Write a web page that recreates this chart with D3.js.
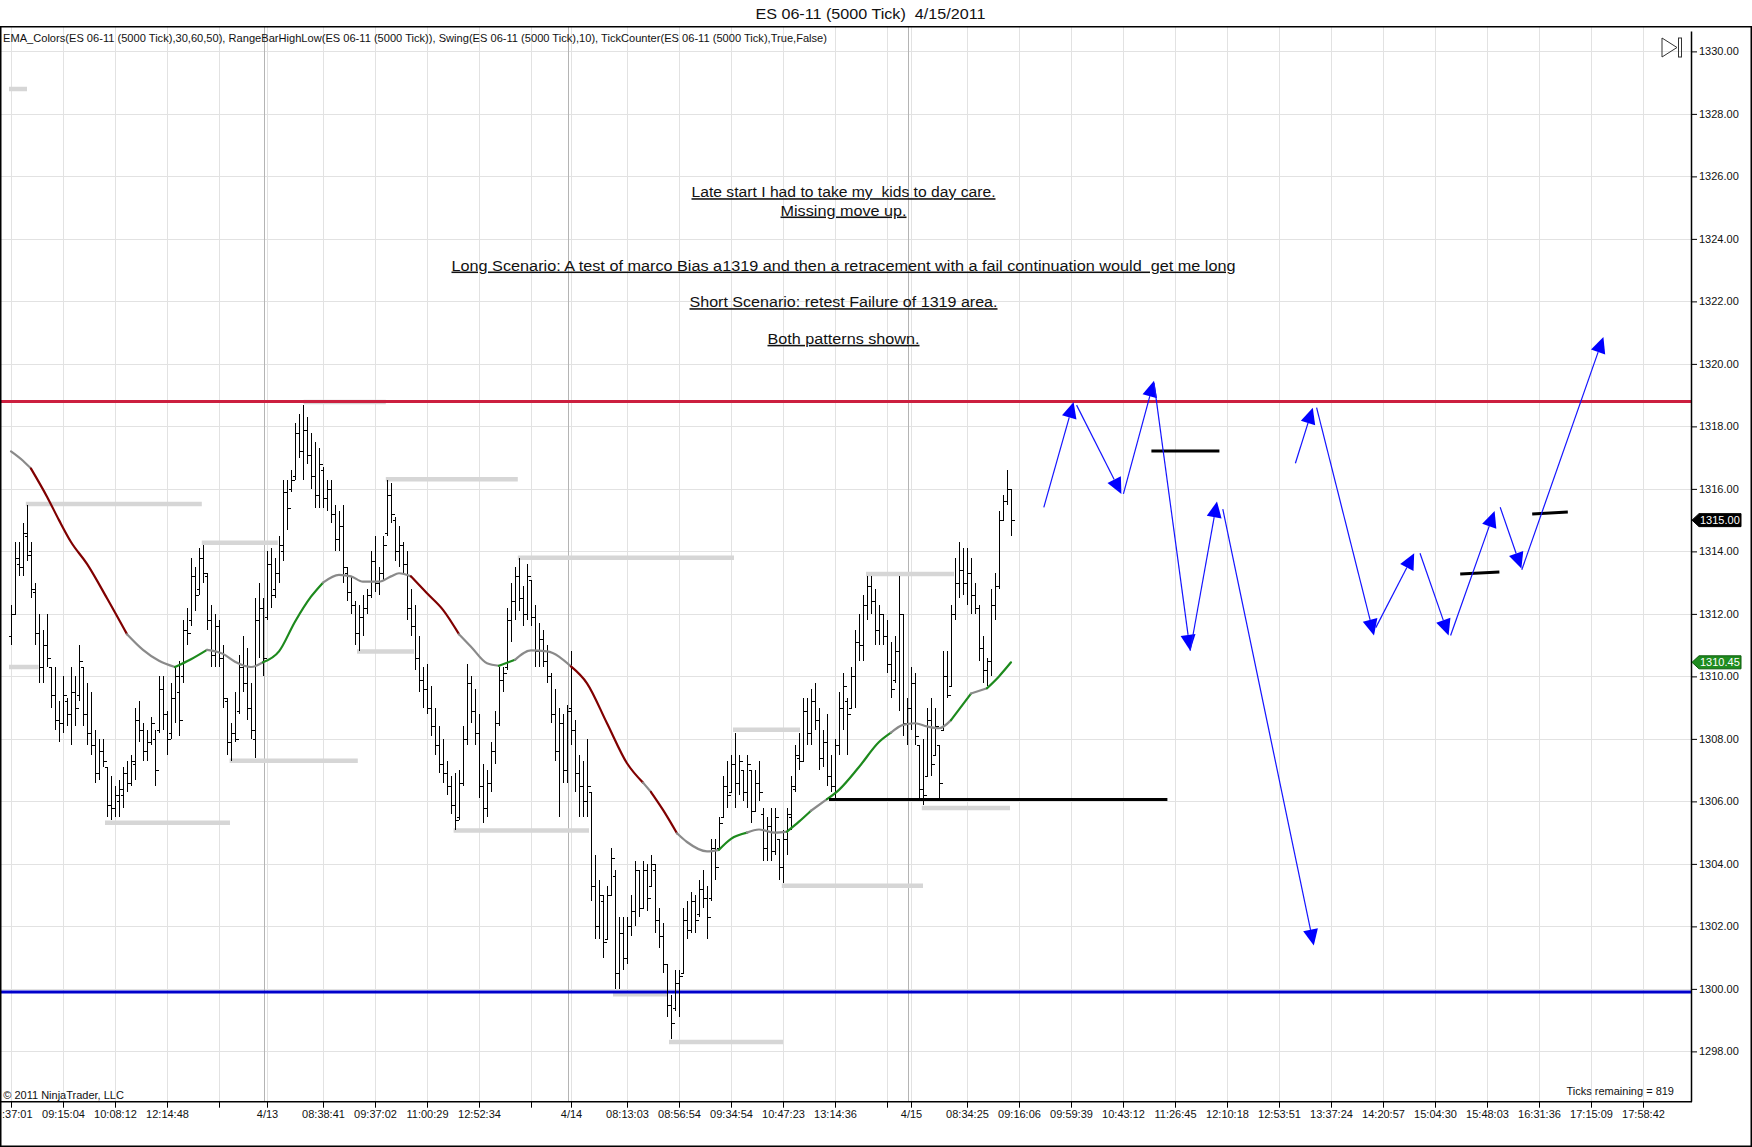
<!DOCTYPE html>
<html>
<head>
<meta charset="utf-8">
<script src="https://cdn.jsdelivr.net/npm/d3@7"></script>
<style>
  html, body { margin: 0; padding: 0; background: #fff; }
  svg { display: block; font-family: "Liberation Sans", Arial, sans-serif; }
</style>
</head>
<body>
<div id="chart"></div>
<script>
// ---- data ----------------------------------------------------------------
// OHLC bars [open, high, low, close], one array per session
const session0412 = [
  [1311.3,1312.3,1311.0,1312.0],[1312.0,1314.3,1312.0,1313.8],[1313.6,1314.3,1313.2,1313.5],[1313.5,1314.9,1313.2,1314.6],
  [1314.5,1315.5,1313.7,1313.9],[1314.0,1314.3,1312.5,1312.8],[1312.7,1313.0,1311.0,1311.4],[1311.4,1312.0,1309.8,1310.3],
  [1310.3,1311.5,1309.8,1311.0],[1311.0,1312.0,1310.3,1310.6],[1310.3,1310.3,1309.0,1309.4],[1309.4,1310.3,1308.3,1308.6],
  [1308.6,1309.2,1307.9,1308.5],[1308.5,1310.0,1308.2,1309.4],[1309.2,1309.3,1308.4,1308.8],[1308.8,1310.3,1307.8,1309.5],
  [1309.5,1310.0,1308.4,1309.0],[1309.4,1311.0,1309.2,1310.5],[1310.3,1310.3,1308.4,1308.8],[1308.8,1309.8,1307.8,1308.2],
  [1308.2,1309.5,1307.5,1307.8],[1307.8,1308.3,1306.6,1306.9],[1306.9,1308.0,1306.7,1307.6],[1307.6,1308.0,1307.1,1307.3],
  [1307.1,1307.1,1305.5,1305.9],[1305.9,1306.8,1305.4,1305.8],[1305.8,1306.5,1305.5,1306.2],[1306.0,1306.7,1305.5,1306.4],
  [1306.2,1307.1,1305.8,1306.9],[1306.9,1307.3,1306.3,1306.6],[1306.6,1307.5,1306.5,1307.3],[1307.2,1309.0,1306.7,1308.6],
  [1308.6,1309.2,1307.9,1308.3],[1308.3,1308.5,1307.3,1307.6],[1307.6,1308.3,1307.3,1307.9],[1307.9,1308.7,1307.8,1308.5],
  [1308.0,1308.3,1306.5,1307.0],[1308.3,1310.0,1308.2,1309.6],[1309.6,1310.0,1308.3,1308.8],[1308.8,1308.9,1307.5,1308.0],
  [1308.2,1309.8,1308.0,1309.3],[1309.3,1310.3,1308.5,1310.0],[1309.5,1310.5,1308.1,1308.6],[1310.0,1311.8,1309.8,1311.5],
  [1311.5,1312.2,1311.0,1311.4],[1311.8,1313.8,1311.6,1313.2],[1313.2,1313.5,1312.1,1312.6],[1312.8,1314.1,1312.6,1313.8],
  [1313.8,1314.2,1313.0,1313.3],[1313.2,1313.3,1311.5,1311.8],[1311.8,1312.3,1310.3,1310.7],[1310.7,1312.0,1310.3,1311.6],
  [1311.6,1311.8,1310.3,1310.6],[1310.6,1311.0,1309.0,1309.3],[1309.2,1309.3,1307.5,1307.9],[1307.9,1308.5,1307.3,1308.2],
  [1308.2,1309.5,1307.9,1308.0],[1308.9,1310.7,1308.8,1310.3],[1310.3,1311.3,1309.5,1309.8],[1309.8,1310.9,1308.6,1309.0],
  [1309.0,1309.8,1308.0,1308.3],[1308.0,1312.5,1307.4,1311.8],[1311.8,1313.0,1310.6,1312.2],[1312.2,1312.5,1310.0,1310.6]
];
const session0413 = [
  [1311.9,1314.0,1311.8,1313.6],[1313.6,1314.1,1312.2,1312.6],[1312.8,1313.8,1312.5,1313.3],[1313.3,1314.5,1313.0,1314.2],
  [1314.0,1316.3,1313.7,1315.9],[1315.9,1316.3,1314.7,1315.4],[1316.0,1316.6,1315.9,1316.3],[1316.4,1318.1,1316.3,1317.8],
  [1317.8,1318.4,1317.0,1317.2],[1317.2,1318.7,1316.3,1317.9],[1317.9,1318.3,1316.8,1317.1],[1317.1,1317.8,1316.0,1316.4],
  [1316.4,1317.5,1315.4,1315.8],[1315.8,1317.3,1315.4,1316.8],[1316.6,1316.7,1315.4,1315.7],[1315.7,1316.3,1315.3,1316.0],
  [1316.0,1316.3,1314.9,1315.2],[1315.2,1315.5,1314.0,1314.4],[1314.4,1315.3,1314.0,1314.8],[1314.8,1315.5,1313.0,1313.5],
  [1313.3,1313.5,1312.4,1312.7],[1312.7,1313.2,1312.0,1312.3],[1312.3,1312.4,1311.0,1311.4],[1311.4,1312.3,1310.8,1311.9],
  [1311.9,1312.6,1311.3,1312.2],[1312.2,1312.8,1312.0,1312.6],[1312.6,1314.0,1312.5,1313.7],[1313.7,1314.5,1312.7,1313.0],
  [1313.0,1313.5,1312.6,1313.3],[1313.3,1314.5,1313.1,1314.2],[1314.6,1316.3,1314.5,1315.8],[1315.8,1316.2,1314.9,1315.2],
  [1315.0,1315.1,1313.7,1314.0],[1314.0,1314.8,1313.5,1314.2],[1314.2,1314.3,1313.3,1313.6],[1313.6,1314.0,1311.8,1312.2],
  [1312.2,1312.8,1311.3,1311.6],[1311.6,1312.3,1310.2,1310.6],[1310.6,1311.3,1309.5,1309.9],[1309.9,1310.3,1309.0,1309.6],
  [1309.6,1310.4,1308.8,1309.0],[1309.0,1309.7,1308.1,1308.4],[1308.4,1309.0,1307.5,1307.8],[1307.8,1308.4,1306.9,1307.2],
  [1307.2,1308.0,1306.6,1306.9],[1306.9,1307.3,1306.2,1306.5],[1306.5,1306.8,1305.6,1305.9],[1305.9,1306.9,1305.1,1305.4],
  [1305.5,1307.0,1305.4,1306.6],[1306.6,1308.4,1306.5,1308.0],[1308.0,1310.4,1307.8,1309.8],[1309.8,1310.0,1308.5,1308.9],
  [1308.9,1309.6,1307.8,1308.2],[1308.2,1308.8,1306.1,1306.5],[1306.5,1307.2,1305.3,1305.8],[1305.8,1307.0,1305.5,1306.6],
  [1306.6,1307.9,1306.3,1307.6],[1307.6,1308.9,1307.2,1308.5],[1308.5,1310.3,1308.4,1309.9],[1309.9,1310.3,1309.5,1310.1],
  [1310.3,1312.2,1310.2,1311.8],[1311.8,1313.0,1311.1,1312.4],[1312.4,1313.5,1311.8,1313.2],[1313.2,1313.8,1312.1,1312.5],
  [1312.5,1312.9,1311.6,1312.0],[1312.0,1313.6,1311.8,1313.2],[1313.1,1313.1,1311.6,1311.9],[1311.9,1312.3,1310.3,1310.8],
  [1310.8,1311.7,1310.3,1311.2],[1311.2,1311.5,1310.3,1310.5],[1310.5,1311.0,1309.8,1310.0],[1310.0,1310.1,1308.5,1308.8],
  [1308.8,1309.6,1307.3,1307.6],[1307.6,1309.0,1305.5,1308.5],[1308.5,1308.8,1306.6,1307.0],[1307.0,1309.1,1306.6,1308.9]
];
const session0414 = [
  [1309.0,1310.8,1307.8,1308.3],[1308.3,1308.6,1306.3,1306.9],[1306.9,1307.5,1305.5,1306.5],[1306.5,1307.3,1305.5,1306.0],
  [1306.0,1308.0,1305.5,1306.5],[1306.3,1306.3,1302.8,1303.3],[1303.3,1304.3,1301.6,1302.0],[1302.0,1303.5,1301.6,1303.0],
  [1302.8,1303.0,1301.0,1301.5],[1301.6,1303.3,1301.6,1303.0],[1303.0,1304.5,1303.0,1304.2],[1303.6,1303.8,1300.0,1300.5],
  [1300.5,1302.3,1300.0,1301.8],[1301.8,1302.3,1300.6,1301.0],[1301.0,1302.3,1300.8,1302.0],[1302.0,1303.0,1301.7,1302.5],
  [1302.5,1304.1,1302.0,1303.8],[1303.8,1303.8,1302.3,1302.6],[1302.6,1304.1,1302.6,1303.8],[1303.8,1304.0,1302.5,1302.9],
  [1303.3,1304.3,1303.3,1304.0],[1303.8,1304.0,1301.8,1302.2],[1302.2,1302.6,1301.3,1301.7],[1301.7,1302.1,1300.5,1300.8],
  [1300.8,1300.8,1299.1,1299.5],[1299.5,1299.8,1298.4,1298.9],[1299.4,1300.6,1299.3,1300.2],[1300.2,1300.6,1299.1,1300.4],
  [1300.5,1302.6,1300.5,1302.2],[1302.2,1302.8,1301.6,1301.9],[1301.9,1303.1,1301.8,1302.8],[1302.8,1303.0,1301.8,1302.2],
  [1302.4,1303.5,1302.3,1303.2],[1303.2,1303.8,1302.6,1302.9],[1302.9,1303.3,1301.6,1302.3],[1302.9,1304.8,1302.8,1304.5],
  [1304.5,1304.8,1303.5,1303.9],[1304.5,1305.5,1304.45,1305.3],[1305.5,1306.8,1305.5,1306.5],[1306.5,1307.3,1305.8,1306.2],
  [1306.3,1307.5,1306.3,1307.2],[1307.2,1308.2,1305.8,1306.6],[1306.6,1307.5,1306.2,1307.3],[1307.0,1307.0,1306.0,1306.3],
  [1306.3,1307.5,1305.8,1307.2],[1307.0,1307.0,1305.3,1305.7],[1305.7,1307.0,1305.7,1306.6],[1306.6,1307.3,1306.0,1306.3],
  [1305.6,1305.8,1304.1,1304.5],[1304.5,1305.5,1304.1,1305.2],[1305.2,1305.8,1304.1,1304.4],[1304.4,1305.8,1304.3,1305.5],
  [1304.8,1304.8,1303.5,1303.9],[1303.9,1305.1,1303.4,1304.8],[1304.8,1305.8,1304.3,1305.6],[1305.5,1306.8,1305.1,1306.5],
  [1306.4,1307.8,1306.3,1307.5],[1307.4,1308.2,1307.0,1307.3],[1307.3,1309.3,1307.3,1308.9],[1308.9,1309.3,1307.8,1308.2],
  [1308.2,1309.6,1307.8,1309.2],[1309.2,1309.8,1308.3,1308.6],[1308.6,1309.0,1307.0,1307.4],[1307.4,1308.3,1307.1,1307.9],
  [1307.9,1308.8,1306.5,1306.8],[1306.8,1307.5,1306.3,1306.5],[1306.5,1308.0,1306.1,1307.8],[1307.8,1309.5,1307.5,1309.0],
  [1309.0,1310.1,1308.3,1309.7],[1309.2,1309.3,1307.5,1308.8],[1309.0,1310.3,1309.0,1310.0],[1310.0,1311.5,1309.0,1311.1],
  [1311.1,1312.0,1310.5,1311.0],[1311.0,1312.6,1310.5,1312.3],[1312.3,1313.2,1311.8,1312.9],[1312.9,1313.2,1312.0,1312.4],
  [1312.4,1312.8,1311.0,1311.5],[1311.5,1312.3,1311.0,1312.0],[1312.0,1312.0,1311.0,1311.3],[1311.3,1311.8,1310.1,1310.4],
  [1310.4,1311.1,1309.3,1309.6],[1309.9,1311.3,1309.8,1310.8],[1310.8,1313.2,1308.9,1312.0],[1312.0,1312.0,1308.1,1308.5],
  [1308.5,1309.3,1307.8,1309.0]
];
const session0415 = [
  [1309.0,1310.3,1308.3,1309.8],[1309.8,1310.1,1307.8,1308.1],[1307.8,1307.8,1306.1,1306.4],[1306.4,1308.0,1305.9,1306.2],
  [1306.8,1309.0,1306.8,1308.6],[1308.6,1309.3,1306.8,1307.2],[1307.5,1309.0,1307.5,1308.4],[1307.8,1307.8,1306.1,1306.6],
  [1308.3,1310.8,1308.3,1310.0],[1310.0,1310.8,1309.3,1309.4],[1309.7,1312.3,1309.7,1312.0],[1312.0,1313.8,1311.8,1313.0],
  [1313.0,1314.3,1312.5,1313.4],[1313.4,1314.1,1312.6,1313.0],[1313.0,1314.1,1312.3,1313.3],[1313.3,1313.8,1312.0,1312.6],
  [1312.6,1313.0,1312.0,1312.2],[1312.2,1312.3,1310.5,1310.9],[1310.9,1311.3,1309.8,1310.2],[1310.2,1310.6,1309.7,1310.5],
  [1310.5,1312.8,1310.0,1312.3],[1312.3,1313.3,1311.8,1312.9],[1312.9,1315.3,1312.8,1315.0],[1315.0,1315.8,1315.0,1315.6],
  [1315.6,1316.6,1315.5,1316.0],[1316.0,1316.0,1314.5,1315.0]
];

// EMA(30): bar index, value, segment colour (n = flat, r = falling, g = rising)
const emaIdx = [0,3,5,9,12,15,19,24,29,33,37,41,45,49,53,56,60,63,67,71,75,78,82,85,88,92,95,97,100,104,108,112,115,119,122,126,130,134,140,144,149,154,158,160,163,166.5,169,174,177,180,184,187,191,194,197,200,204,207,212,217,220,223,226,229,232,235,240,244,247,250];
const emaVal = [1317.2,1316.9,1316.65,1315.75,1315.0,1314.3,1313.6,1312.5,1311.35,1310.85,1310.5,1310.3,1310.55,1310.85,1310.72,1310.47,1310.3,1310.45,1310.8,1311.75,1312.55,1313.0,1313.25,1313.2,1313.03,1313.03,1313.2,1313.3,1313.2,1312.66,1312.13,1311.35,1310.95,1310.42,1310.34,1310.53,1310.83,1310.8,1310.32,1309.78,1308.5,1307.22,1306.6,1306.3,1305.73,1304.98,1304.7,1304.4,1304.45,1304.8,1305.0,1305.1,1305.0,1305.03,1305.35,1305.7,1306.07,1306.37,1307.1,1307.9,1308.2,1308.45,1308.5,1308.4,1308.34,1308.6,1309.45,1309.62,1310.0,1310.45];
const emaTrend = "nnrrrrrrnnnggnnnnggggnnnnnnnrrrnnngnnnrrrrnrrnnnggnnnggngggg" + "nnnnngngg";

// swing high/low levels [from bar, to bar, price]
const swingLevels = [
  [-0.5,4,1328.8],[3.7,47.7,1315.52],[47.7,66.7,1314.28],[73.15,93.7,1318.78],[93.7,126.7,1316.31],
  [126.7,180.75,1313.8],[-0.5,6.9,1310.3],[86.5,100.75,1310.8],[54.65,86.7,1307.3],[23.5,54.75,1305.32],
  [110.65,144.5,1305.07],[150.5,164.25,1299.83],[164.5,193,1298.3],[180.5,197.25,1308.29],
  [192.7,228,1303.3],[213.75,235.75,1313.28],[227.7,249.75,1305.79]
];
const resistance = 1318.8;
const support = 1299.9;

// drawn black lines [bar0, price0, bar1, price1]
const markLines = [
  [204.5,1306.06,289.1,1306.06],[285.1,1317.21,302.1,1317.21],
  [362.3,1313.28,372.1,1313.34],[380.3,1315.2,389.2,1315.26]
];
// projected scenario arrows [bar0, price0, bar1, price1]
const arrows = [
  [258.2,1315.41,265.65,1318.78],[266.4,1318.68,277.6,1315.84],[278.1,1315.84,285.75,1319.46],
  [285.75,1319.39,294.8,1310.82],[294.8,1310.82,301.5,1315.6],[302.95,1315.35,325.7,1301.39],
  [321.1,1316.82,325.45,1318.6],[326.4,1318.6,340.75,1311.31],[341.2,1311.56,350.8,1313.94],
  [352.25,1313.94,359.4,1311.31],[359.9,1311.31,370.9,1315.29],[372.3,1315.41,377.6,1313.45],
  [377.7,1313.41,398.1,1320.86]
];

const priceTicks = [1298,1300,1302,1304,1306,1308,1310,1312,1314,1316,1318,1320,1322,1324,1326,1328,1330];
const xTickIdx = [0,13,26,39,52,64,78,91,104,117,130,140,154,167,180,193,206,219,225,239,252,265,278,291,304,317,330,343,356,369,382,395,408];
const xTickLabels = [":37:01","09:15:04","10:08:12","12:14:48","","4/13","08:38:41","09:37:02","11:00:29","12:52:34","","4/14",
  "08:13:03","08:56:54","09:34:54","10:47:23","13:14:36","","4/15","08:34:25","09:16:06","09:59:39","10:43:12","11:26:45",
  "12:10:18","12:53:51","13:37:24","14:20:57","15:04:30","15:48:03","16:31:36","17:15:09","17:58:42"];
const sessionStarts = [64, 140, 225];

const title = "ES 06-11 (5000 Tick)  4/15/2011";
const indicatorText = "EMA_Colors(ES 06-11 (5000 Tick),30,60,50), RangeBarHighLow(ES 06-11 (5000 Tick)), Swing(ES 06-11 (5000 Tick),10), TickCounter(ES 06-11 (5000 Tick),True,False)";
const notes = [
  "Late start I had to take my  kids to day care.",
  "Missing move up.",
  "", "",
  "Long Scenario: A test of marco Bias a1319 and then a retracement with a fail continuation would  get me long",
  "",
  "Short Scenario: retest Failure of 1319 area.",
  "",
  "Both patterns shown."
];
const ticksRemaining = 819;

// ---- layout --------------------------------------------------------------
const W = 1752, H = 1147;
const plot = { left: 0, right: 1691, top: 27, bottom: 1101.7 };
const noteWidths = [304, 126, 0, 0, 784, 0, 308, 0, 152];

const bars = session0412.concat(session0413, session0414, session0415);

const x = d3.scaleLinear().domain([0, 420]).range([11, plot.right]);
const y = d3.scaleLinear().domain([1296.39, 1330.78]).range([plot.bottom, plot.top]);

const svg = d3.select("#chart").append("svg")
  .attr("width", W).attr("height", H);

svg.append("rect").attr("width", W).attr("height", H).attr("fill", "#fff");

svg.append("clipPath").attr("id", "plotclip")
  .append("rect")
  .attr("x", plot.left).attr("y", plot.top)
  .attr("width", plot.right - plot.left).attr("height", plot.bottom - plot.top);

const grid = svg.append("g").attr("clip-path", "url(#plotclip)");

// horizontal grid
grid.selectAll(".hg").data(priceTicks).enter().append("line")
  .attr("x1", plot.left).attr("x2", plot.right)
  .attr("y1", d => Math.round(y(d)) + 0.5).attr("y2", d => Math.round(y(d)) + 0.5)
  .attr("stroke", "#e2e2e2");

// vertical grid
grid.selectAll(".vg").data(xTickIdx).enter().append("line")
  .attr("x1", d => Math.round(x(d)) + 0.5).attr("x2", d => Math.round(x(d)) + 0.5)
  .attr("y1", plot.top).attr("y2", plot.bottom)
  .attr("stroke", "#e2e2e2");

// session breaks
grid.selectAll(".sb").data(sessionStarts).enter().append("line")
  .attr("x1", d => Math.round(x(d) - 3.5) + 0.5).attr("x2", d => Math.round(x(d) - 3.5) + 0.5)
  .attr("y1", plot.top).attr("y2", plot.bottom)
  .attr("stroke", "#b4b4b4");

const chart = svg.append("g").attr("clip-path", "url(#plotclip)");

// swing levels
chart.selectAll(".swing").data(swingLevels).enter().append("line")
  .attr("x1", d => x(d[0])).attr("x2", d => x(d[1]))
  .attr("y1", d => y(d[2])).attr("y2", d => y(d[2]))
  .attr("stroke", "#d6d6d6").attr("stroke-width", 4.5);

// support / resistance
chart.append("line")
  .attr("x1", plot.left).attr("x2", plot.right)
  .attr("y1", y(resistance)).attr("y2", y(resistance))
  .attr("stroke", "#cc1f3f").attr("stroke-width", 3);
chart.append("line")
  .attr("x1", plot.left).attr("x2", plot.right)
  .attr("y1", y(support)).attr("y2", y(support))
  .attr("stroke", "#0000cc").attr("stroke-width", 3);

// OHLC bars
chart.append("g")
  .selectAll("path").data(bars).enter().append("path")
  .attr("d", (d, i) => {
    const cx = Math.round(x(i)) + 0.5;
    return `M${cx},${y(d[1])}V${y(d[2])}` +
           `M${cx - 3},${Math.round(y(d[0])) + 0.5}H${cx}` +
           `M${cx},${Math.round(y(d[3])) + 0.5}H${cx + 3}`;
  })
  .attr("fill", "none")
  .attr("stroke", "#000")
  .attr("stroke-width", 1)
  .attr("shape-rendering", "crispEdges");

// EMA, coloured by trend
const trendColor = { n: "#8a8a8a", r: "#800000", g: "#1d8a1d" };
const emaLine = d3.line()
  .x(d => x(d[0])).y(d => y(d[1]))
  .curve(d3.curveMonotoneX);
let start = 0;
for (let k = 1; k <= emaTrend.length; k++) {
  if (k === emaTrend.length || emaTrend[k] !== emaTrend[start]) {
    const pts = [];
    for (let j = start; j <= k; j++) pts.push([emaIdx[j], emaVal[j]]);
    chart.append("path")
      .attr("d", emaLine(pts))
      .attr("fill", "none")
      .attr("stroke", trendColor[emaTrend[start]])
      .attr("stroke-width", 2.2)
      .attr("stroke-linecap", "round");
    start = k;
  }
}

// drawn black lines
chart.selectAll(".mark").data(markLines).enter().append("line")
  .attr("x1", d => x(d[0])).attr("y1", d => y(d[1]))
  .attr("x2", d => x(d[2])).attr("y2", d => y(d[3]))
  .attr("stroke", "#000").attr("stroke-width", 3);

// scenario arrows
const arrowG = chart.append("g");
arrows.forEach(a => {
  const x0 = x(a[0]), y0 = y(a[1]), x1 = x(a[2]), y1 = y(a[3]);
  const ang = Math.atan2(y1 - y0, x1 - x0);
  const len = 16, half = 7.5;
  const bx = x1 - len * Math.cos(ang), by = y1 - len * Math.sin(ang);
  arrowG.append("line")
    .attr("x1", x0).attr("y1", y0).attr("x2", bx).attr("y2", by)
    .attr("stroke", "#1414ff").attr("stroke-width", 1.2);
  arrowG.append("path")
    .attr("d", `M${x1},${y1}L${bx + half * Math.sin(ang)},${by - half * Math.cos(ang)}` +
               `L${bx - half * Math.sin(ang)},${by + half * Math.cos(ang)}Z`)
    .attr("fill", "#0000ff");
});

// ---- axes ----------------------------------------------------------------
const yAxis = svg.append("g")
  .attr("transform", `translate(${plot.right},0)`)
  .call(d3.axisRight(y).tickValues(priceTicks).tickSize(6).tickPadding(2).tickFormat(d => d.toFixed(2)));
yAxis.select(".domain").remove();
yAxis.selectAll("text").style("font-size", "11px").attr("fill", "#111");
yAxis.selectAll("line").attr("stroke", "#000");

svg.append("line")
  .attr("x1", plot.right + 0.5).attr("x2", plot.right + 0.5)
  .attr("y1", 31.5).attr("y2", plot.bottom)
  .attr("stroke", "#000").attr("stroke-width", 1.5);

const xAxis = svg.append("g")
  .attr("transform", `translate(0,${plot.bottom})`)
  .call(d3.axisBottom(x).tickValues(xTickIdx).tickSize(6).tickPadding(2.5)
    .tickFormat((d, i) => xTickLabels[i]));
xAxis.select(".domain").remove();
xAxis.selectAll("text").style("font-size", "11px").attr("fill", "#111");
xAxis.selectAll("line").attr("stroke", "#000");
xAxis.selectAll(".tick").each(function (d) {
  const t = d3.select(this).select("text");
  const b = t.node().getBBox();
  const left = x(d) + b.x;
  if (left < 1.5) t.attr("x", 1.5 - left);
});

svg.append("line")
  .attr("x1", plot.left).attr("x2", plot.right + 1)
  .attr("y1", plot.bottom).attr("y2", plot.bottom)
  .attr("stroke", "#000").attr("stroke-width", 1.5);

// price markers on the axis
function marker(v, fill, stroke) {
  const yy = y(v);
  svg.append("path")
    .attr("d", `M${plot.right + 1},${yy}L${plot.right + 8},${yy - 6.5}H${plot.right + 50}V${yy + 6.5}H${plot.right + 8}Z`)
    .attr("fill", fill).attr("stroke", stroke);
  svg.append("text")
    .attr("x", plot.right + 9).attr("y", yy).attr("dy", "0.35em")
    .style("font-size", "11px").attr("fill", "#fff")
    .text(v.toFixed(2));
}
marker(bars[bars.length - 1][3], "#000", "#000");
marker(emaVal[emaVal.length - 1], "#1f8c1f", "#0d5c0d");

// ---- texts & frame -------------------------------------------------------
svg.append("text")
  .attr("x", 870.4).attr("y", 18.5)
  .attr("text-anchor", "middle")
  .style("font-size", "15px").style("white-space", "pre")
  .attr("textLength", 230).attr("lengthAdjust", "spacingAndGlyphs")
  .attr("fill", "#111")
  .text(title);

svg.append("text")
  .attr("x", 3).attr("y", 41.5)
  .style("font-size", "11px")
  .attr("textLength", 824).attr("lengthAdjust", "spacingAndGlyphs")
  .attr("fill", "#111")
  .text(indicatorText);

notes.forEach((line, i) => {
  if (!line) return;
  svg.append("text")
    .attr("x", 843.5).attr("y", 191.7 + i * 18.33 + 5.5)
    .attr("text-anchor", "middle")
    .style("font-size", "15.5px").style("white-space", "pre")
    .style("text-decoration", "underline")
    .attr("textLength", noteWidths[i]).attr("lengthAdjust", "spacingAndGlyphs")
    .attr("fill", "#111")
    .text(line);
});

svg.append("text")
  .attr("x", 3.3).attr("y", 1099)
  .style("font-size", "11px").attr("fill", "#111")
  .text("\u00a9 2011 NinjaTrader, LLC");

svg.append("text")
  .attr("x", 1674).attr("y", 1095)
  .attr("text-anchor", "end")
  .style("font-size", "11px").attr("fill", "#111")
  .text(`Ticks remaining = ${ticksRemaining}`);

// scroll-to-end icon
svg.append("path")
  .attr("d", "M1662,38L1677,47.5L1662,57Z")
  .attr("fill", "none").attr("stroke", "#333");
svg.append("rect")
  .attr("x", 1678.5).attr("y", 38).attr("width", 3).attr("height", 19)
  .attr("fill", "none").attr("stroke", "#333");

svg.append("rect")
  .attr("x", 0.75).attr("y", 26.75)
  .attr("width", W - 1.5).attr("height", H - 27.5)
  .attr("fill", "none").attr("stroke", "#000").attr("stroke-width", 1.5);
</script>
</body>
</html>
